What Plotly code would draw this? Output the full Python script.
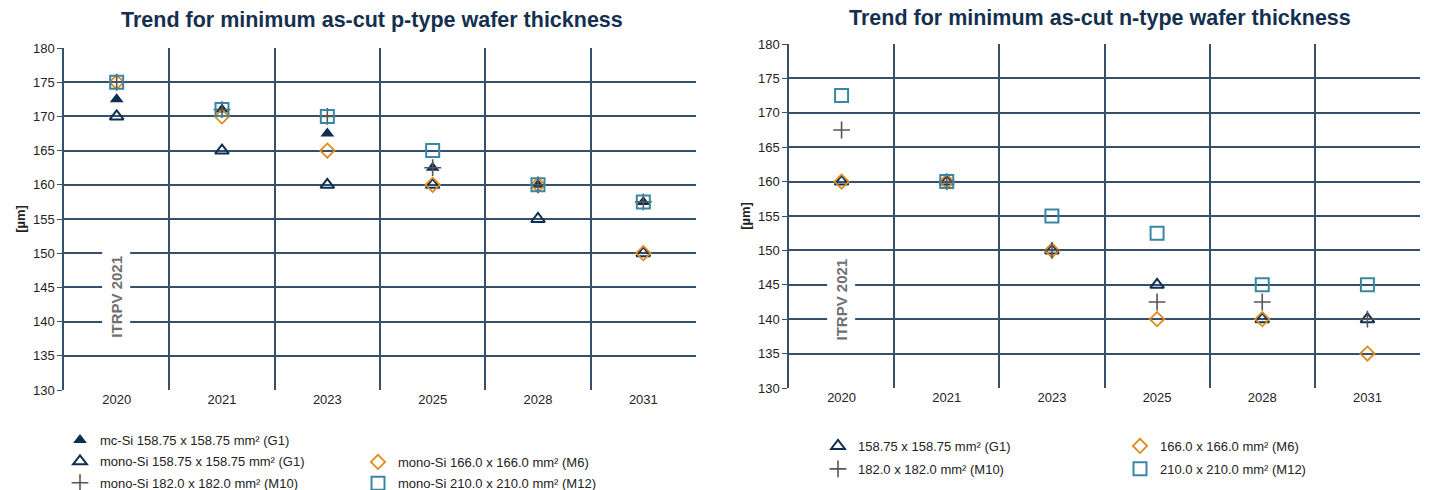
import plotly.graph_objects as go

years = ["2020", "2021", "2023", "2025", "2028", "2031"]
y_ticks = [130, 135, 140, 145, 150, 155, 160, 165, 170, 175, 180]

# p-type (left chart)
p_mc_g1 = [172.5, 171, 167.5, 162.5, 160, 157.5]
p_mono_g1 = [170, 165, 160, 160, 155, 150]
p_m6 = [175, 170, 165, 160, 160, 150]
p_m10 = [175, 171, 170, 162.5, 160, 157.5]
p_m12 = [175, 171, 170, 165, 160, 157.5]

# n-type (right chart)
n_g1 = [160, 160, 150, 145, 140, 140]
n_m6 = [160, 160, 150, 140, 140, 135]
n_m10 = [167.5, 160, 150, 142.5, 142.5, 140]
n_m12 = [172.5, 160, 155, 152.5, 145, 145]

title_left = "Trend for minimum as-cut p-type wafer thickness"
title_right = "Trend for minimum as-cut n-type wafer thickness"

NAVY = "#0f2f52"
ORANGE = "#e08a1c"
GREY = "#555555"
STEEL = "#3a87a3"
GRID = "#34506b"
FONT = "Liberation Sans, Arial, sans-serif"

xs = list(range(len(years)))

styles = {
    "mc": dict(symbol="triangle-up", size=12, color=NAVY, line=dict(width=0)),
    "g1": dict(symbol="triangle-up-open", size=12, color=NAVY, line=dict(width=2, color=NAVY)),
    "m6": dict(symbol="diamond-open", size=11, color=ORANGE, line=dict(width=1.8, color=ORANGE)),
    "m10": dict(symbol="cross-thin-open", size=12, color=GREY, line=dict(width=1.6, color=GREY)),
    "m12": dict(symbol="square-open", size=13, color=STEEL, line=dict(width=2, color=STEEL)),
}

fig = go.Figure()

def add(vals, name, key, xa, ya, legend, group):
    fig.add_trace(go.Scatter(
        x=xs, y=vals, mode="markers", name=name, marker=styles[key],
        xaxis=xa, yaxis=ya, legend=legend, legendgroup=group, showlegend=True,
        hoverinfo="y"))

add(p_mc_g1, "mc-Si 158.75 x 158.75 mm² (G1)", "mc", "x", "y", "legend", "a1")
add(p_mono_g1, "mono-Si 158.75 x 158.75 mm² (G1)", "g1", "x", "y", "legend", "a2")
add(p_m6, "mono-Si 166.0 x 166.0 mm² (M6)", "m6", "x", "y", "legend2", "b1")
add(p_m10, "mono-Si 182.0 x 182.0 mm² (M10)", "m10", "x", "y", "legend", "a3")
add(p_m12, "mono-Si 210.0 x 210.0 mm² (M12)", "m12", "x", "y", "legend2", "b2")

add(n_g1, "158.75 x 158.75 mm² (G1)", "g1", "x2", "y2", "legend3", "c1")
add(n_m6, "166.0 x 166.0 mm² (M6)", "m6", "x2", "y2", "legend4", "d1")
add(n_m10, "182.0 x 182.0 mm² (M10)", "m10", "x2", "y2", "legend3", "c2")
add(n_m12, "210.0 x 210.0 mm² (M12)", "m12", "x2", "y2", "legend4", "d2")

W, H = 1430, 490

def xaxis(domain):
    return dict(
        domain=domain, range=[-0.5, len(years) - 0.5],
        tickmode="array", tickvals=xs, ticktext=years,
        showgrid=False, zeroline=False, ticks="",
        tickfont=dict(size=13, color="#222", family=FONT),
        minor=dict(tickmode="array", tickvals=[i - 0.5 for i in range(len(years) + 1)],
                   showgrid=True, gridcolor=GRID, gridwidth=1.5, ticks=""),
        showline=False, fixedrange=True,
    )

def yaxis(domain, anchor):
    return dict(
        domain=domain, anchor=anchor, range=[130, 180],
        tickmode="array", tickvals=y_ticks,
        showgrid=True, gridcolor=GRID, gridwidth=1.5, zeroline=False,
        ticks="outside", ticklen=5, tickcolor=GRID,
        showline=True, linecolor=GRID, linewidth=1.5,
        tickfont=dict(size=13, color="#222", family=FONT),
        title=dict(text="<b>[µm]</b>", font=dict(size=13, color="#222", family=FONT), standoff=4),
        fixedrange=True,
    )

fig.update_layout(
    width=W, height=H,
    margin=dict(l=0, r=0, t=0, b=0, pad=0, autoexpand=False),
    paper_bgcolor="white", plot_bgcolor="white",
    font=dict(family=FONT, color="#222"),
    xaxis=xaxis([64 / W, 696 / W]) | dict(anchor="y"),
    yaxis=yaxis([1 - 390 / H, 1 - 48 / H], "x"),
    xaxis2=xaxis([789 / W, 1420 / W]) | dict(anchor="y2"),
    yaxis2=yaxis([1 - 388 / H, 1 - 44 / H], "x2"),
)

leg_common = dict(bgcolor="rgba(0,0,0,0)", font=dict(size=13, color="#222", family=FONT),
                  xanchor="left", yanchor="top", tracegroupgap=1.5, itemwidth=30,
                  orientation="v")
fig.update_layout(
    legend=leg_common | dict(x=60 / W, y=1 - 425 / H),
    legend2=leg_common | dict(x=358 / W, y=1 - 447 / H),
    legend3=leg_common | dict(x=818 / W, y=1 - 431 / H, tracegroupgap=3),
    legend4=leg_common | dict(x=1120 / W, y=1 - 431 / H, tracegroupgap=3),
)

# titles
fig.add_annotation(text="<b>" + title_left + "</b>", xref="paper", yref="paper",
                   x=372 / W, y=1 - 20 / H, xanchor="center", yanchor="middle", showarrow=False,
                   font=dict(size=21.5, color="#15304f", family=FONT))
fig.add_annotation(text="<b>" + title_right + "</b>", xref="paper", yref="paper",
                   x=1100 / W, y=1 - 18 / H, xanchor="center", yanchor="middle", showarrow=False,
                   font=dict(size=21.5, color="#15304f", family=FONT))

# watermark
for xa, ya, yv in [("x", "y", 143.6), ("x2", "y2", 142.8)]:
    fig.add_annotation(text="<b>ITRPV 2021</b>", xref=xa, yref=ya, x=0, y=yv,
                       showarrow=False, textangle=-90, bgcolor="white", borderpad=5,
                       font=dict(size=15, color="#707070", family=FONT))

fig.write_html("out.html", config={"displayModeBar": False},
               post_script="document.body.style.margin='0';")
